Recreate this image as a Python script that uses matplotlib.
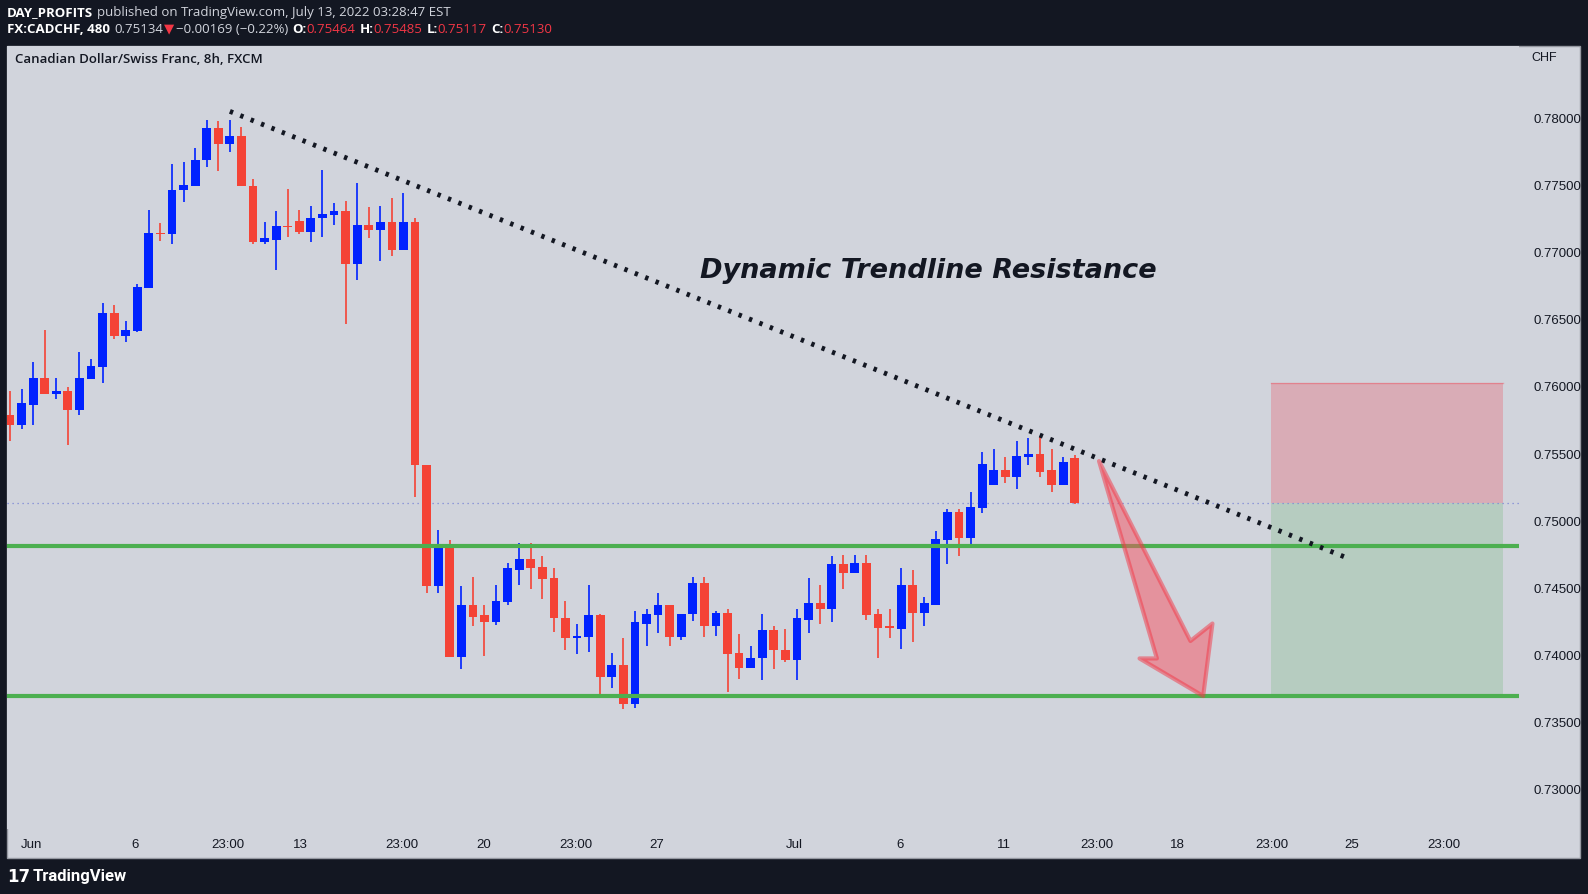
import matplotlib.pyplot as plt
from matplotlib.patches import Rectangle, Polygon
import numpy as np

# 8h CADCHF candles
opens = [0.7578, 0.7571, 0.7586, 0.7606, 0.7594, 0.7596, 0.7582, 0.7605, 0.7614, 0.7654,
         0.7637, 0.7641, 0.7673, 0.7714, 0.7713, 0.7746, 0.7749, 0.7768, 0.7792, 0.7780,
         0.7786, 0.7749, 0.7707, 0.7709, 0.7719, 0.7723, 0.7715, 0.7725, 0.7727, 0.7730,
         0.7691, 0.7720, 0.7716, 0.7722, 0.7701, 0.7722, 0.7541, 0.7451, 0.7480, 0.7398,
         0.7437, 0.7429, 0.7424, 0.7439, 0.7463, 0.7471, 0.7465, 0.7457, 0.7427, 0.7412,
         0.7413, 0.7429, 0.7383, 0.7392, 0.7363, 0.7423, 0.7429, 0.7437, 0.7413, 0.7430,
         0.7453, 0.7421, 0.7431, 0.7401, 0.7390, 0.7397, 0.7418, 0.7403, 0.7396, 0.7426,
         0.7438, 0.7434, 0.7467, 0.7461, 0.7468, 0.7430, 0.7421, 0.7419, 0.7452, 0.7431,
         0.7437, 0.7485, 0.7506, 0.7487, 0.7509, 0.7526, 0.7537, 0.7532, 0.7547, 0.7549,
         0.7537, 0.7526, 0.75464]
highs = [0.7596, 0.7598, 0.7618, 0.7642, 0.7606, 0.7599, 0.7625, 0.7620, 0.7662, 0.7660,
         0.7648, 0.7676, 0.7731, 0.7721, 0.7765, 0.7767, 0.7777, 0.7798, 0.7797, 0.7798,
         0.7793, 0.7754, 0.7722, 0.7730, 0.7747, 0.7731, 0.7734, 0.7761, 0.7736, 0.7738,
         0.7751, 0.7733, 0.7734, 0.7740, 0.7744, 0.7725, 0.7541, 0.7493, 0.7485, 0.7451,
         0.7458, 0.7437, 0.7452, 0.7468, 0.7483, 0.7483, 0.7473, 0.7464, 0.7440, 0.7423,
         0.7452, 0.7430, 0.7401, 0.7412, 0.7432, 0.7434, 0.7446, 0.7437, 0.7430, 0.7458,
         0.7458, 0.7432, 0.7434, 0.7415, 0.7406, 0.7430, 0.7421, 0.7419, 0.7434, 0.7457,
         0.7452, 0.7473, 0.7474, 0.7474, 0.7474, 0.7434, 0.7434, 0.7464, 0.7463, 0.7443,
         0.7492, 0.7508, 0.7508, 0.7521, 0.7551, 0.7553, 0.7547, 0.7559, 0.7561, 0.7562,
         0.7553, 0.7547, 0.75485]
lows = [0.7559, 0.7568, 0.7571, 0.7594, 0.7590, 0.7556, 0.7578, 0.7605, 0.7602, 0.7635,
        0.7633, 0.7640, 0.7673, 0.7708, 0.7706, 0.7737, 0.7749, 0.7763, 0.7760, 0.7774,
        0.7749, 0.7706, 0.7706, 0.7686, 0.7711, 0.7713, 0.7707, 0.7711, 0.7720, 0.7646,
        0.7679, 0.7710, 0.7693, 0.7697, 0.7701, 0.7517, 0.7446, 0.7446, 0.7398, 0.7389,
        0.7421, 0.7399, 0.7422, 0.7437, 0.7452, 0.7449, 0.7441, 0.7417, 0.7403, 0.7400,
        0.7402, 0.7370, 0.7375, 0.7359, 0.7360, 0.7406, 0.7416, 0.7406, 0.7411, 0.7425,
        0.7413, 0.7414, 0.7372, 0.7382, 0.7390, 0.7381, 0.7389, 0.7394, 0.7381, 0.7416,
        0.7423, 0.7424, 0.7449, 0.7461, 0.7426, 0.7397, 0.7412, 0.7404, 0.7409, 0.7421,
        0.7437, 0.7467, 0.7473, 0.7480, 0.7505, 0.7526, 0.7528, 0.7523, 0.7541, 0.7532,
        0.7521, 0.7526, 0.75117]
closes = [0.7571, 0.7587, 0.7606, 0.7594, 0.7596, 0.7582, 0.7606, 0.7615, 0.7654, 0.7637,
          0.7642, 0.7674, 0.7714, 0.7713, 0.7746, 0.7750, 0.7768, 0.7792, 0.7780, 0.7786,
          0.7749, 0.7707, 0.7710, 0.7719, 0.7718, 0.7715, 0.7725, 0.7728, 0.7730, 0.7691,
          0.7720, 0.7716, 0.7722, 0.7701, 0.7722, 0.7541, 0.7451, 0.7480, 0.7398, 0.7437,
          0.7428, 0.7424, 0.7440, 0.7464, 0.7471, 0.7464, 0.7456, 0.7427, 0.7412, 0.7414,
          0.7429, 0.7383, 0.7392, 0.7363, 0.7424, 0.7430, 0.7437, 0.7413, 0.7430, 0.7453,
          0.7421, 0.7431, 0.7400, 0.7390, 0.7397, 0.7418, 0.7403, 0.7396, 0.7427, 0.7438,
          0.7434, 0.7467, 0.7461, 0.7468, 0.7429, 0.7420, 0.7420, 0.7452, 0.7431, 0.7438,
          0.7486, 0.7506, 0.7487, 0.7510, 0.7542, 0.7537, 0.7532, 0.7548, 0.7549, 0.7536,
          0.7526, 0.7543, 0.75130]

# time axis labels at bar index positions
tick_pos = [1.85, 10.8, 18.8, 25.1, 33.9, 40.9, 48.9, 55.9, 67.8, 76.9, 85.9, 93.9,
            100.9, 109.0, 115.9, 123.9]
tick_labels = ["Jun", "6", "23:00", "13", "23:00", "20", "23:00", "27", "Jul", "6", "11",
               "23:00", "18", "23:00", "25", "23:00"]
price_ticks = [0.730, 0.735, 0.740, 0.745, 0.750, 0.755, 0.760, 0.765, 0.770, 0.775, 0.780]

support_hi = 0.7481
support_lo = 0.7369
trend_start = (19.0, 0.78045)
trend_end = (115.5, 0.7472)
last_close = 0.75130
stop_level = 0.7602
box_x = (109.0, 128.97)
# hand-drawn arrow outline (bar index, price)
arrow_x = [94.1, 99.1, 97.6, 103.1, 103.9, 102.0]
arrow_y = [0.7544, 0.7397, 0.7397, 0.7369, 0.7423, 0.7410]

BG = "#131722"
PANE = "#d1d4dc"
UP = "#0022ff"
DOWN = "#f44336"
W, H = 1568, 884  # layout measured on this scale

fig = plt.figure(figsize=(15.88, 8.95), dpi=100, facecolor=BG)
fig.patches.append(Rectangle((7 / W, 1 - 848 / H), (1560 - 7) / W, (848 - 46) / H,
                             transform=fig.transFigure, facecolor=PANE,
                             edgecolor="#9598a1", lw=1, zorder=-5))
ax = fig.add_axes([7 / W, 1 - 820 / H, (1500 - 7) / W, (820 - 46) / H])
ax.set_facecolor(PANE)
ax.set_zorder(2)
for s in ax.spines.values():
    s.set_visible(False)

n = len(opens)
idx = np.arange(n)
for i in idx:
    o, h, l, c = opens[i], highs[i], lows[i], closes[i]
    col = UP if c >= o else DOWN
    ax.vlines(i, l, h, color=col, lw=1.2, zorder=3)
    bot = min(o, c)
    ht = max(abs(c - o), 0.00008)
    ax.add_patch(Rectangle((i - 0.38, bot), 0.76, ht, facecolor=col, edgecolor="none", zorder=4))

ax.set_xlim(-0.25, 130.4)
ax.set_ylim(0.72698, 0.78535)

ax.axhline(last_close, color="#7b86d6", lw=0.9, ls=(0, (1, 3)), zorder=2)
ax.axhline(support_hi, color="#4caf50", lw=3, zorder=5)
ax.axhline(support_lo, color="#4caf50", lw=3, zorder=5)

# position tool
ax.add_patch(Rectangle((box_x[0], last_close), box_x[1] - box_x[0], stop_level - last_close,
                       facecolor="#f23645", alpha=0.25, edgecolor="none", zorder=1))
ax.plot(box_x, [stop_level, stop_level], color="#f23645", alpha=0.35, lw=1, zorder=1)
ax.add_patch(Rectangle((box_x[0], support_lo), box_x[1] - box_x[0], last_close - support_lo,
                       facecolor="#4caf50", alpha=0.2, edgecolor="none", zorder=1))

ax.plot([trend_start[0], trend_end[0]], [trend_start[1], trend_end[1]], color="#131722",
        lw=3.5, ls=(0, (0.7, 1.6)), zorder=6)

ax.text(59.6, 0.7686, "Dynamic Trendline Resistance", fontsize=19.5, style="italic",
        fontweight="bold", color="#131722", ha="left", va="center",
        family="DejaVu Sans", zorder=7)

ax.add_patch(Polygon(list(zip(arrow_x, arrow_y)), closed=True, facecolor="#f7525f", alpha=0.5,
                     edgecolor="#f23645", lw=3, zorder=6, joinstyle="round"))

ax.set_xticks(tick_pos)
ax.set_xticklabels(tick_labels, fontsize=9.5, color="#131722", family="Liberation Sans")
ax.tick_params(axis="x", length=0, pad=6)
ax.yaxis.tick_right()
ax.set_yticks(price_ticks)
ax.set_yticklabels(["%.5f" % p for p in price_ticks], fontsize=9.5, color="#131722",
                   family="Liberation Sans")
ax.tick_params(axis="y", length=0, pad=10)

fig.text(1512 / W, 1 - 57 / H, "CHF", fontsize=9, color="#131722", ha="left", va="center",
         family="Liberation Sans")
fig.text(15 / W, 1 - 59 / H, "Canadian Dollar/Swiss Franc, 8h, FXCM", fontsize=9.5,
         color="#131722", fontweight="semibold", family="Open Sans", va="center")

# header lines, placed one after another
rend = fig.canvas.get_renderer()


def line(parts, y, x0=7):
    x = x0 / W * fig.bbox.width
    for txt, col, wt, gap, fam in parts:
        t = fig.text(x / fig.bbox.width, 1 - y / H, txt, color=col, fontweight=wt,
                     fontsize=9.5, family=fam, va="center")
        x = t.get_window_extent(rend).x1 + gap


OS = "Open Sans"
line([("DAY_PROFITS", "white", "bold", 4, OS),
      ("published on TradingView.com, July 13, 2022 03:28:47 EST", "#d1d4dc", "normal", 0, OS)], 12)
line([("FX:CADCHF, 480", "white", "bold", 4, OS), ("0.75134", "#d1d4dc", "normal", 1, OS),
      ("▼", "#f23645", "normal", 2, "DejaVu Sans"), ("−0.00169 (−0.22%)", "#d1d4dc", "normal", 4, OS),
      ("O:", "white", "bold", 0, OS), ("0.75464", "#f23645", "normal", 4, OS),
      ("H:", "white", "bold", 0, OS), ("0.75485", "#f23645", "normal", 4, OS),
      ("L:", "white", "bold", 0, OS), ("0.75117", "#f23645", "normal", 4, OS),
      ("C:", "white", "bold", 0, OS), ("0.75130", "#f23645", "normal", 0, OS)], 29)

fig.text(7 / W, 1 - 866 / H, "17", fontsize=12, color="white", fontweight="heavy",
         family="DejaVu Sans", va="center")
fig.text(32 / W, 1 - 866 / H, "TradingView", fontsize=12, color="white", fontweight="bold",
         family="Roboto", va="center")

fig.savefig("out.png", dpi=100, facecolor=BG)
